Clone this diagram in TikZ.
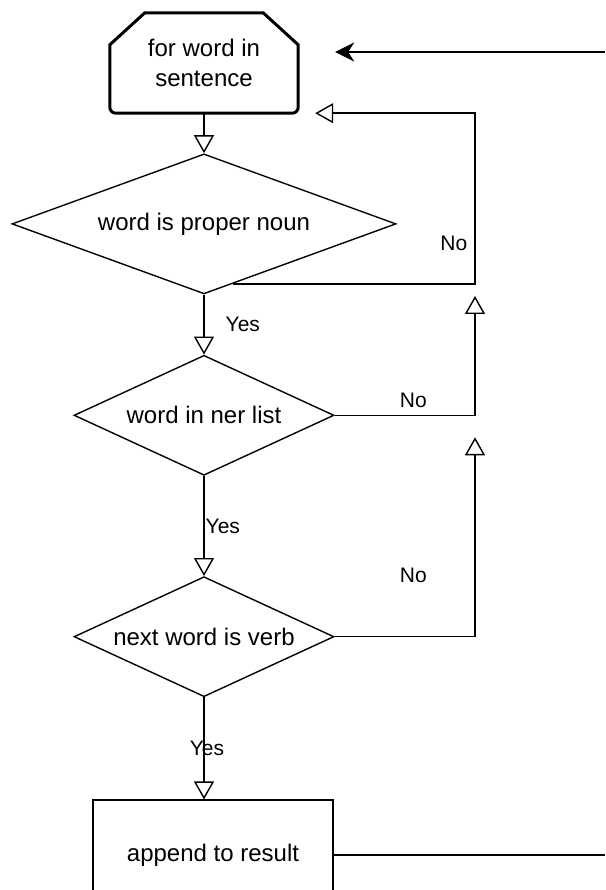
\documentclass[tikz,border=0pt]{standalone}
\usepackage{fontspec}
\setmainfont{Liberation Sans}
\usetikzlibrary{shapes.geometric, arrows.meta, positioning, calc}
\tikzstyle{limit} = [
  rectangle,
  minimum width=188pt,
  minimum height=100pt,
  align=center,
  font=\fontsize{24}{30}\selectfont
]
\tikzstyle{decision} = [
  diamond,
  draw=black,
  line width=1.4pt,
  inner sep=0pt,
  align=center,
  font=\fontsize{24}{30}\selectfont
]
\tikzstyle{process} = [
  rectangle,
  draw=black,
  line width=1.4pt,
  minimum width=240pt,
  minimum height=110pt,
  text centered,
  font=\fontsize{24}{30}\selectfont
]
\tikzstyle{arrow} = [line width=1.4pt, -{Triangle[open, fill=white, length=18pt, width=20pt]}]
\tikzstyle{link} = [line width=1.4pt]
\tikzstyle{back} = [line width=1.4pt, -{Stealth[length=19pt, width=19pt, inset=6pt]}]
\tikzstyle{branch} = [inner sep=0pt, font=\fontsize{21}{25}\selectfont]

\begin{document}
\begin{tikzpicture}
    \useasboundingbox (-204pt,63pt) rectangle (401pt,-827pt);
    \node (for-word) [limit] {for word in\\sentence};
    \node (proper-noun) [decision, below=40pt of for-word, minimum width=384pt, minimum height=140pt, aspect=2.74] {word is proper noun};
    \node (ner-list) [decision, below=60pt of proper-noun, minimum width=260pt, minimum height=120pt, aspect=2.17] {word in ner list};
    \node (next-verb) [decision, below=100pt of ner-list, minimum width=260pt, minimum height=120pt, aspect=2.17] {next word is verb};
    \node (append) [process, below=102pt of next-verb, xshift=9pt] {append to result};

    % loop limit outline
    \draw [line width=3pt] ([xshift=35pt]for-word.north west) -- ([xshift=-35pt]for-word.north east)
      -- ([yshift=-32pt]for-word.north east) -- ([yshift=6pt]for-word.south east)
      arc[start angle=0, end angle=-90, radius=6pt] -- ([xshift=6pt]for-word.south west)
      arc[start angle=270, end angle=180, radius=6pt] -- ([yshift=-32pt]for-word.north west) -- cycle;

    \coordinate (no-column) at (271pt,0);
    \coordinate (proper-exit) at ($(proper-noun.south)!0.15!(proper-noun.east)$);
    \coordinate (proper-turn) at (proper-exit -| no-column);
    \coordinate (ner-turn) at (ner-list.east -| no-column);
    \coordinate (loop-in) at ([xshift=17pt]for-word.south east);
    \coordinate (start-in) at ([shift={(37pt,11pt)}]for-word.east);
    \coordinate (right-top) at (401pt,11pt);
    \coordinate (right-bottom) at (append.east -| right-top);

    \draw [arrow] (for-word) -- (proper-noun);
    \draw [arrow] (proper-noun) -- node[branch, right=21pt] {Yes} (ner-list);
    \draw [arrow] (ner-list) -- node[branch, right=1pt] {Yes} (next-verb);
    \draw [arrow] (next-verb.south) -- node[branch, xshift=3pt] {Yes} (next-verb.south |- append.north);
    \draw [arrow] (proper-exit) -- (proper-turn) -- node[branch, pos=0.24, left=7pt] {No} (loop-in -| no-column) -- (loop-in);
    \draw [arrow] (ner-list.east) -- node[branch, pos=0.56, above=7pt] {No} (ner-turn) -- ([yshift=-12pt]proper-turn);
    \draw [arrow] (next-verb.east) -- node[branch, pos=0.56, above=53pt] {No} (next-verb.east -| no-column) -- ([yshift=-22pt]ner-turn);
    \draw [link] (append.east) -- (right-bottom);
    \draw [back] (right-top) -- (start-in);
  \end{tikzpicture}
\end{document}
